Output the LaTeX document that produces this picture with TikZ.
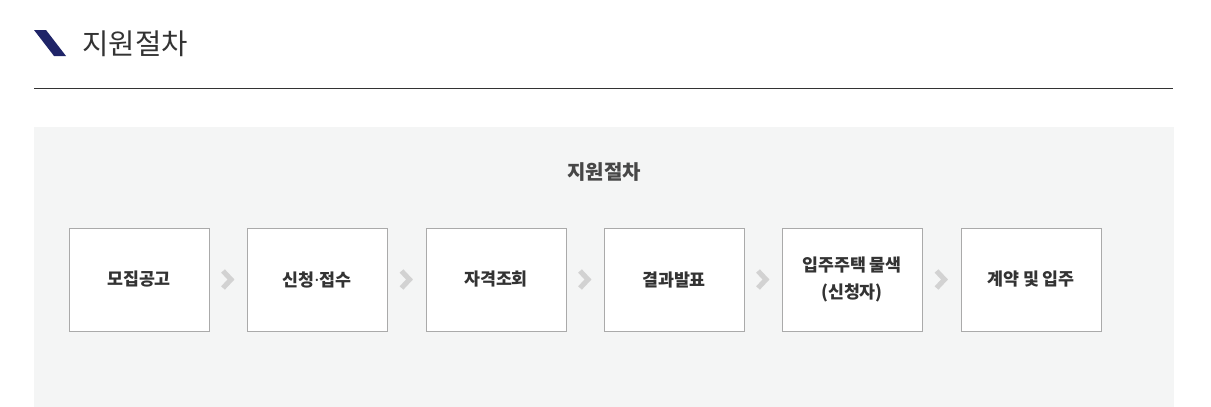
\documentclass[tikz,border=0pt]{standalone}
\usepackage{fontspec}
\setmainfont{Noto Sans CJK KR}
\newfontfamily\dotfont{Noto Sans}
\usepackage{tikz}
\usetikzlibrary{calc}

\definecolor{navy}{HTML}{1F2468}
\definecolor{ink}{HTML}{333333}
\definecolor{panel}{HTML}{F4F5F5}
\definecolor{boxline}{HTML}{AAAAAA}
\definecolor{chev}{HTML}{D2D2D2}

\tikzset{
	stepbox/.style={draw=boxline, fill=white, line width=0.75pt, minimum width=105pt, minimum height=77.25pt, align=center, text=ink, font=\bfseries\fontsize{13}{18}\selectfont, inner sep=0pt},
	chevron/.style={draw=chev, line width=3.8pt, line cap=butt, line join=miter}
}

\begin{document}
\begin{tikzpicture}[x=0.75pt, y=-0.75pt]
	\useasboundingbox (0,0) rectangle (1211,407);
	
	% Heading
	\fill[navy] (34,30) -- (46,30) -- (66,56) -- (54,56) -- cycle;
	\node[anchor=west, text=ink, font=\fontsize{21.5}{26}\selectfont, inner sep=0pt] (title) at (82,44) {지원절차};
	\draw[ink, line width=0.75pt] (34,88) -- (1173,88);
	
	% Panel
	\fill[panel] (34,127) rectangle (1174,407);
	\node[text=ink!90, font=\bfseries\fontsize{15}{18}\selectfont] (sub) at (604,172) {지원절차};
	
	% Nodes
	\node[stepbox] (s1) at (139,279.5) {모집공고};
	\node[stepbox] (s2) at (317,279.5) {신청{\dotfont\bfseries ·}접수};
	\node[stepbox] (s3) at (496,279.5) {자격조회};
	\node[stepbox] (s4) at (674,279.5) {결과발표};
	\node[stepbox] (s5) at (852,279.5) {입주주택 물색\\[2pt](신청자)};
	\node[stepbox] (s6) at (1031,279.5) {계약 및 입주};
	
	% Chevrons
	\foreach \a/\b in {s1/s2, s2/s3, s3/s4, s4/s5, s5/s6}{
		\coordinate (m) at ($(\a.east)!0.5!(\b.west)$);
		\draw[chevron] ($(m)+(-5,-8.5)$) -- ($(m)+(3,0)$) -- ($(m)+(-5,8.5)$);
	}
\end{tikzpicture}
\end{document}
